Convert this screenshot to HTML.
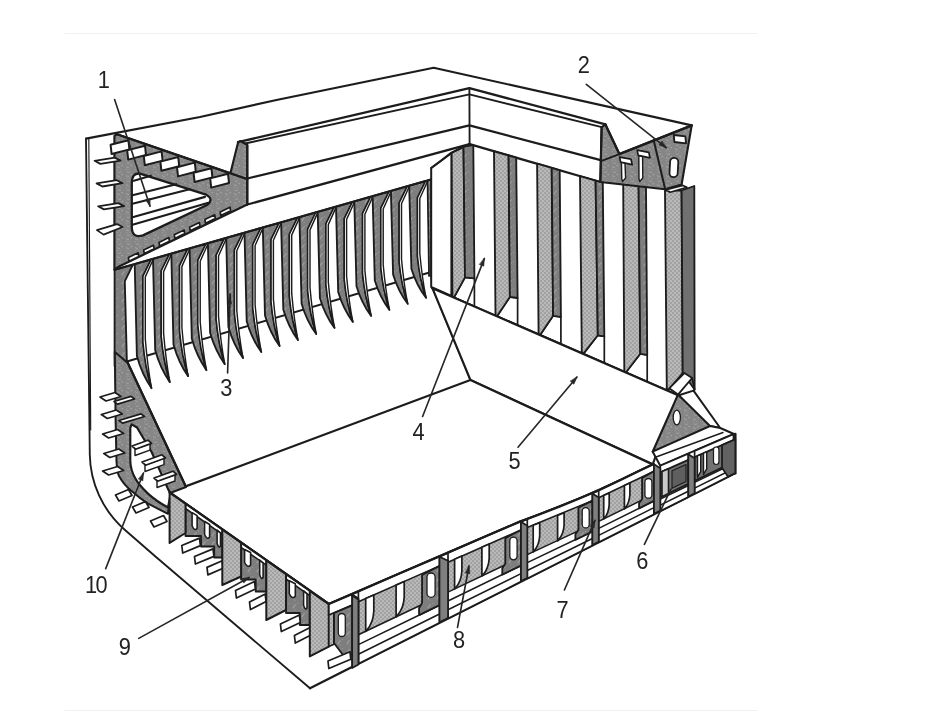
<!DOCTYPE html>
<html lang="en">
<head>
<meta charset="utf-8">
<title>Cargo hold structure</title>
<style>
html,body{margin:0;padding:0;background:#fff;}
body{width:945px;height:714px;overflow:hidden;font-family:"Liberation Sans",sans-serif;}
svg{display:block;}
svg text{font-family:"Liberation Sans",sans-serif;fill:#222;}
</style>
</head>
<body>
<svg width="945" height="714" viewBox="0 0 945 714" stroke-linejoin="round" stroke-linecap="round">
<defs>
<pattern id="lg" width="4" height="4" patternUnits="userSpaceOnUse">
<rect width="4" height="4" fill="#b9b9b9"/>
<circle cx="1" cy="1" r="0.8" fill="#868686"/>
<circle cx="3" cy="3" r="0.8" fill="#868686"/>
</pattern>
<pattern id="mg" width="9" height="9" patternUnits="userSpaceOnUse"><rect width="9" height="9" fill="#868686"/><circle cx="2.9" cy="1.4" r="0.68" fill="#a6a6a6"/><circle cx="0.7" cy="4.8" r="0.58" fill="#a6a6a6"/><circle cx="0.5" cy="4.6" r="0.46" fill="#a6a6a6"/><circle cx="3.9" cy="0.6" r="0.48" fill="#a6a6a6"/><circle cx="3.8" cy="7.4" r="0.49" fill="#a6a6a6"/><circle cx="2.0" cy="5.6" r="0.78" fill="#a6a6a6"/><circle cx="5.2" cy="3.6" r="0.79" fill="#a6a6a6"/><circle cx="0.4" cy="7.7" r="0.55" fill="#a6a6a6"/><circle cx="1.3" cy="1.1" r="0.56" fill="#a6a6a6"/></pattern>
<pattern id="dg" width="9" height="9" patternUnits="userSpaceOnUse"><rect width="9" height="9" fill="#7e7e7e"/><circle cx="7.3" cy="1.6" r="0.65" fill="#9c9c9c"/><circle cx="5.8" cy="3.4" r="0.64" fill="#9c9c9c"/><circle cx="0.6" cy="0.5" r="0.52" fill="#9c9c9c"/><circle cx="6.1" cy="3.8" r="0.56" fill="#9c9c9c"/><circle cx="5.3" cy="4.1" r="0.55" fill="#9c9c9c"/><circle cx="7.1" cy="6.3" r="0.54" fill="#9c9c9c"/><circle cx="5.2" cy="4.7" r="0.76" fill="#9c9c9c"/><circle cx="6.6" cy="2.6" r="0.79" fill="#9c9c9c"/></pattern>
<filter id="soft" x="-2%" y="-2%" width="104%" height="104%"><feGaussianBlur stdDeviation="0.45"/></filter>
</defs>
<rect width="945" height="714" fill="#fff"/>
<g filter="url(#soft)">
<polyline points="65.0,33.5 757.0,33.5" fill="none" stroke="#f0f0f0" stroke-width="1.14" />
<polyline points="65.0,710.5 757.0,710.5" fill="none" stroke="#f0f0f0" stroke-width="1.14" />
<path d="M86,138.6 L89.8,455 C90.3,482 102,510 125,530 L156.3,557.3 L310,688.3" fill="none" stroke="#1b1b1b" stroke-width="1.85" />
<polyline points="88.8,138.1 90.7,430.0" fill="none" stroke="#1b1b1b" stroke-width="1.14" />
<polyline points="86.0,138.6 200.0,117.0 276.5,100.0 433.7,67.8 691.7,125.4" fill="none" stroke="#1b1b1b" stroke-width="2.13" />
<polyline points="238.0,142.2 469.4,88.1 605.4,124.4" fill="none" stroke="#1b1b1b" stroke-width="2.27" />
<polyline points="241.5,144.3 469.4,94.4 602.8,127.4" fill="none" stroke="#1b1b1b" stroke-width="1.99" />
<polyline points="247.3,178.5 469.4,125.4 601.6,160.4" fill="none" stroke="#1b1b1b" stroke-width="2.13" />
<polyline points="247.3,204.5 469.6,144.2 600.3,182.0" fill="none" stroke="#1b1b1b" stroke-width="2.27" />
<polyline points="469.4,88.1 469.6,144.2" fill="none" stroke="#1b1b1b" stroke-width="1.85" />
<polyline points="431.2,272.0 432.4,288.2" fill="none" stroke="#1b1b1b" stroke-width="2.13" />
<polyline points="432.4,288.2 470.4,380.0" fill="none" stroke="#1b1b1b" stroke-width="1.49" />
<polygon points="465.0,277.4 474.4,278.4 474.4,306.5 453.9,297.6" fill="#ffffff" stroke="#1b1b1b" stroke-width="1.70" />
<polygon points="451.4,152.9 463.5,146.5 465.0,277.4 453.9,297.6 452.4,296.9" fill="url(#lg)" stroke="#1b1b1b" stroke-width="1.85" />
<polygon points="463.5,146.5 473.3,145.2 474.4,278.4 465.0,277.4" fill="url(#dg)" stroke="#1b1b1b" stroke-width="1.85" />
<polygon points="509.9,297.0 517.6,298.0 517.6,325.3 497.0,316.3" fill="#ffffff" stroke="#1b1b1b" stroke-width="1.70" />
<polygon points="494.0,151.3 508.6,155.5 509.9,297.0 497.0,316.3 495.5,315.7" fill="url(#lg)" stroke="#1b1b1b" stroke-width="1.85" />
<polygon points="508.6,155.5 516.2,157.7 517.6,298.0 509.9,297.0" fill="url(#dg)" stroke="#1b1b1b" stroke-width="1.85" />
<polygon points="553.1,315.8 560.9,316.8 560.9,344.2 540.1,335.1" fill="#ffffff" stroke="#1b1b1b" stroke-width="1.70" />
<polygon points="537.1,163.7 551.7,167.9 553.1,315.8 540.1,335.1 538.6,334.5" fill="url(#lg)" stroke="#1b1b1b" stroke-width="1.85" />
<polygon points="551.7,167.9 559.7,170.3 560.9,316.8 553.1,315.8" fill="url(#dg)" stroke="#1b1b1b" stroke-width="1.85" />
<polygon points="597.8,335.3 604.3,336.3 604.3,363.1 583.3,353.9" fill="#ffffff" stroke="#1b1b1b" stroke-width="1.70" />
<polygon points="580.0,176.1 595.6,180.6 597.8,335.3 583.3,353.9 581.8,353.3" fill="url(#lg)" stroke="#1b1b1b" stroke-width="1.85" />
<polygon points="595.6,180.6 602.8,182.7 604.3,336.3 597.8,335.3" fill="url(#dg)" stroke="#1b1b1b" stroke-width="1.85" />
<polygon points="640.3,353.8 647.2,354.8 647.2,381.8 625.8,372.5" fill="#ffffff" stroke="#1b1b1b" stroke-width="1.70" />
<polygon points="623.2,183.5 638.6,185.0 640.3,353.8 625.8,372.5 624.3,371.8" fill="url(#lg)" stroke="#1b1b1b" stroke-width="1.85" />
<polygon points="638.6,185.0 646.0,186.0 647.2,354.8 640.3,353.8" fill="url(#dg)" stroke="#1b1b1b" stroke-width="1.85" />
<polygon points="665.0,190.5 681.6,190.5 682.7,373.0 668.8,389.5 666.8,389.3" fill="url(#lg)" stroke="#1b1b1b" stroke-width="1.85" />
<polygon points="681.6,190.5 694.3,186.0 694.6,389.5 682.7,373.0" fill="#707070" stroke="#1b1b1b" stroke-width="1.85" />
<polyline points="432.4,288.2 678.0,395.2" fill="none" stroke="#1b1b1b" stroke-width="2.13" />
<polygon points="601.6,127.4 605.4,124.4 619.4,154.1 691.7,125.4 681.6,184.6 665.0,189.2 600.3,182.0" fill="url(#mg)" stroke="#1b1b1b" stroke-width="2.13" />
<polyline points="605.4,124.4 619.4,154.1 691.7,125.4" fill="none" stroke="#1b1b1b" stroke-width="2.27" />
<polyline points="653.7,140.2 665.0,188.4" fill="none" stroke="#1b1b1b" stroke-width="1.99" />
<polyline points="601.6,127.4 600.3,182.0" fill="none" stroke="#1b1b1b" stroke-width="1.99" />
<polygon points="619.6,157.2 631.0,159.2 632.2,164.6 620.6,162.2" fill="#ffffff" stroke="#1b1b1b" stroke-width="1.70" />
<polygon points="621.4,162.6 625.0,163.4 625.6,178.0 622.6,181.5 621.8,179.0" fill="#ffffff" stroke="#1b1b1b" stroke-width="1.42" />
<polygon points="637.2,150.2 648.8,152.4 650.0,157.8 638.2,155.4" fill="#ffffff" stroke="#1b1b1b" stroke-width="1.70" />
<polygon points="638.8,155.8 642.6,156.6 642.8,178.0 639.8,181.5 639.0,179.0" fill="#ffffff" stroke="#1b1b1b" stroke-width="1.42" />
<polygon points="673.8,135.0 685.4,136.4 686.0,143.4 674.4,142.0" fill="#ffffff" stroke="#1b1b1b" stroke-width="1.85" />
<rect x="669.8" y="157.8" width="8.2" height="19.4" rx="4.1" fill="#fff" stroke="#1b1b1b" stroke-width="1.8" transform="rotate(3 674 167.3)"/>
<polyline points="600.9,161.2 619.4,154.1" fill="none" stroke="#1b1b1b" stroke-width="1.85" />
<polygon points="666.3,189.7 682.9,185.4 686.9,187.3 670.2,192.2" fill="#ffffff" stroke="#1b1b1b" stroke-width="1.70" />
<polyline points="123.5,362.5 431.2,272.0" fill="none" stroke="#1b1b1b" stroke-width="1.85" />
<polygon points="114.6,269.8 132.9,264.6 124.8,281.3 127.0,366.0 114.6,366.0" fill="url(#dg)" stroke="#1b1b1b" stroke-width="1.85" />
<path d="M134.7,264.1 L151.2,259.4 L143.0,276.1 L143.0,342.2 Q145.3,367.8 151.5,388.2 Q141.9,374.3 136.9,356.1 Z" fill="url(#dg)" stroke="#1b1b1b" stroke-width="1.85" />
<path d="M151.2,259.4 L153.5,258.7 L145.3,276.9 L145.3,339.2 Q147.5,365.7 151.5,388.2 Q145.3,367.8 143.0,342.2 L143.0,276.1 Z" fill="#ffffff" stroke="#1b1b1b" stroke-width="1.42" />
<path d="M153.0,258.8 L169.5,254.1 L161.3,270.8 L161.3,336.4 Q163.6,361.9 169.8,382.1 Q160.2,368.3 155.2,350.3 Z" fill="url(#dg)" stroke="#1b1b1b" stroke-width="1.85" />
<path d="M169.5,254.1 L171.8,253.4 L163.6,271.6 L163.6,333.4 Q165.8,359.8 169.8,382.1 Q163.6,361.9 161.3,336.4 L161.3,270.8 Z" fill="#ffffff" stroke="#1b1b1b" stroke-width="1.42" />
<path d="M171.3,253.6 L187.8,248.9 L179.6,265.6 L179.6,330.7 Q181.9,356.1 188.1,376.1 Q178.5,362.4 173.5,344.4 Z" fill="url(#dg)" stroke="#1b1b1b" stroke-width="1.85" />
<path d="M187.8,248.9 L190.1,248.2 L181.9,266.4 L181.9,327.7 Q184.1,353.9 188.1,376.1 Q181.9,356.1 179.6,330.7 L179.6,265.6 Z" fill="#ffffff" stroke="#1b1b1b" stroke-width="1.42" />
<path d="M189.6,248.4 L206.1,243.7 L197.9,260.4 L197.9,325.0 Q200.2,350.2 206.4,370.1 Q196.8,356.5 191.8,338.6 Z" fill="url(#dg)" stroke="#1b1b1b" stroke-width="1.85" />
<path d="M206.1,243.7 L208.4,243.0 L200.2,261.2 L200.2,322.0 Q202.4,348.1 206.4,370.1 Q200.2,350.2 197.9,325.0 L197.9,260.4 Z" fill="#ffffff" stroke="#1b1b1b" stroke-width="1.42" />
<path d="M207.9,243.2 L224.4,238.5 L216.2,255.2 L216.2,319.3 Q218.5,344.3 224.7,364.1 Q215.1,350.5 210.1,332.8 Z" fill="url(#dg)" stroke="#1b1b1b" stroke-width="1.85" />
<path d="M224.4,238.5 L226.7,237.8 L218.5,256.0 L218.5,316.3 Q220.7,342.2 224.7,364.1 Q218.5,344.3 216.2,319.3 L216.2,255.2 Z" fill="#ffffff" stroke="#1b1b1b" stroke-width="1.42" />
<path d="M226.2,237.9 L242.7,233.2 L234.5,249.9 L234.5,313.5 Q236.8,338.4 243.0,358.0 Q233.4,344.6 228.4,327.0 Z" fill="url(#dg)" stroke="#1b1b1b" stroke-width="1.85" />
<path d="M242.7,233.2 L245.0,232.5 L236.8,250.7 L236.8,310.5 Q239.0,336.3 243.0,358.0 Q236.8,338.4 234.5,313.5 L234.5,249.9 Z" fill="#ffffff" stroke="#1b1b1b" stroke-width="1.42" />
<path d="M244.5,232.7 L261.0,228.0 L252.8,244.7 L252.8,307.8 Q255.1,332.5 261.3,352.0 Q251.7,338.7 246.7,321.2 Z" fill="url(#dg)" stroke="#1b1b1b" stroke-width="1.85" />
<path d="M261.0,228.0 L263.3,227.3 L255.1,245.5 L255.1,304.8 Q257.3,330.4 261.3,352.0 Q255.1,332.5 252.8,307.8 L252.8,244.7 Z" fill="#ffffff" stroke="#1b1b1b" stroke-width="1.42" />
<path d="M262.8,227.5 L279.3,222.8 L271.1,239.5 L271.1,302.1 Q273.4,326.6 279.6,346.0 Q270.0,332.7 265.0,315.4 Z" fill="url(#dg)" stroke="#1b1b1b" stroke-width="1.85" />
<path d="M279.3,222.8 L281.6,222.1 L273.4,240.3 L273.4,299.1 Q275.6,324.6 279.6,346.0 Q273.4,326.6 271.1,302.1 L271.1,239.5 Z" fill="#ffffff" stroke="#1b1b1b" stroke-width="1.42" />
<path d="M281.1,222.3 L297.6,217.6 L289.4,234.3 L289.4,296.4 Q291.7,320.7 297.9,340.0 Q288.3,326.8 283.3,309.5 Z" fill="url(#dg)" stroke="#1b1b1b" stroke-width="1.85" />
<path d="M297.6,217.6 L299.9,216.9 L291.7,235.1 L291.7,293.4 Q293.9,318.7 297.9,340.0 Q291.7,320.7 289.4,296.4 L289.4,234.3 Z" fill="#ffffff" stroke="#1b1b1b" stroke-width="1.42" />
<path d="M299.4,217.1 L315.9,212.3 L307.7,229.1 L307.7,290.6 Q310.0,314.8 316.2,334.0 Q306.6,320.9 301.6,303.7 Z" fill="url(#dg)" stroke="#1b1b1b" stroke-width="1.85" />
<path d="M315.9,212.3 L318.2,211.6 L310.0,229.9 L310.0,287.6 Q312.2,312.8 316.2,334.0 Q310.0,314.8 307.7,290.6 L307.7,229.1 Z" fill="#ffffff" stroke="#1b1b1b" stroke-width="1.42" />
<path d="M317.7,211.8 L334.2,207.1 L326.0,223.8 L326.0,284.9 Q328.3,308.9 334.5,327.9 Q324.9,314.9 319.9,297.9 Z" fill="url(#dg)" stroke="#1b1b1b" stroke-width="1.85" />
<path d="M334.2,207.1 L336.5,206.4 L328.3,224.6 L328.3,281.9 Q330.5,306.9 334.5,327.9 Q328.3,308.9 326.0,284.9 L326.0,223.8 Z" fill="#ffffff" stroke="#1b1b1b" stroke-width="1.42" />
<path d="M336.0,206.6 L352.5,201.9 L344.3,218.6 L344.3,279.2 Q346.6,303.0 352.8,321.9 Q343.2,309.0 338.2,292.1 Z" fill="url(#dg)" stroke="#1b1b1b" stroke-width="1.85" />
<path d="M352.5,201.9 L354.8,201.2 L346.6,219.4 L346.6,276.2 Q348.8,301.0 352.8,321.9 Q346.6,303.0 344.3,279.2 L344.3,218.6 Z" fill="#ffffff" stroke="#1b1b1b" stroke-width="1.42" />
<path d="M354.3,201.4 L370.8,196.7 L362.6,213.4 L362.6,273.4 Q364.9,297.1 371.1,315.9 Q361.5,303.1 356.5,286.3 Z" fill="url(#dg)" stroke="#1b1b1b" stroke-width="1.85" />
<path d="M370.8,196.7 L373.1,196.0 L364.9,214.2 L364.9,270.4 Q367.1,295.2 371.1,315.9 Q364.9,297.1 362.6,273.4 L362.6,213.4 Z" fill="#ffffff" stroke="#1b1b1b" stroke-width="1.42" />
<path d="M372.6,196.2 L389.1,191.5 L380.9,208.2 L380.9,267.7 Q383.2,291.2 389.4,309.9 Q379.8,297.1 374.8,280.5 Z" fill="url(#dg)" stroke="#1b1b1b" stroke-width="1.85" />
<path d="M389.1,191.5 L391.4,190.8 L383.2,209.0 L383.2,264.7 Q385.4,289.3 389.4,309.9 Q383.2,291.2 380.9,267.7 L380.9,208.2 Z" fill="#ffffff" stroke="#1b1b1b" stroke-width="1.42" />
<path d="M390.9,190.9 L407.4,186.2 L399.2,202.9 L399.2,262.0 Q401.5,285.4 407.7,303.8 Q398.1,291.2 393.1,274.6 Z" fill="url(#dg)" stroke="#1b1b1b" stroke-width="1.85" />
<path d="M407.4,186.2 L409.7,185.5 L401.5,203.7 L401.5,259.0 Q403.7,283.4 407.7,303.8 Q401.5,285.4 399.2,262.0 L399.2,202.9 Z" fill="#ffffff" stroke="#1b1b1b" stroke-width="1.42" />
<path d="M409.2,185.7 L425.7,181.0 L417.5,197.7 L417.5,256.3 Q419.8,279.5 426.0,297.8 Q416.4,285.3 411.4,268.8 Z" fill="url(#dg)" stroke="#1b1b1b" stroke-width="1.85" />
<path d="M425.7,181.0 L428.0,180.3 L419.8,198.5 L419.8,253.3 Q422.0,277.5 426.0,297.8 Q419.8,279.5 417.5,256.3 L417.5,197.7 Z" fill="#ffffff" stroke="#1b1b1b" stroke-width="1.42" />
<polygon points="427.5,180.5 431.2,179.4 431.2,275.5 429.0,276.0" fill="url(#dg)" stroke="#1b1b1b" stroke-width="1.70" />
<polygon points="431.2,287.0 431.2,168.0 440.0,161.5 451.4,152.9 451.4,296.0" fill="#ffffff" stroke="#1b1b1b" stroke-width="1.99" />
<polyline points="431.2,168.0 440.0,161.5 451.4,152.9 469.6,144.2" fill="none" stroke="#1b1b1b" stroke-width="1.99" />
<polyline points="114.6,269.8 431.0,179.5" fill="none" stroke="#1b1b1b" stroke-width="2.13" />
<polygon points="114.4,136.0 117.0,134.2 230.4,173.2 238.0,142.7 240.5,141.0 247.3,145.0 247.3,204.5 118.0,267.0 114.4,269.8" fill="url(#mg)" stroke="#1b1b1b" stroke-width="2.13" />
<polyline points="117.0,134.2 247.3,179.1" fill="none" stroke="#1b1b1b" stroke-width="2.27" />
<polyline points="247.3,145.0 247.3,204.5" fill="none" stroke="#1b1b1b" stroke-width="1.99" />
<polygon points="110.6,144.8 128.4,140.2 129.4,149.4 111.6,154.0" fill="#ffffff" stroke="#1b1b1b" stroke-width="1.99" />
<polygon points="127.2,150.4 145.0,145.8 146.0,155.0 128.2,159.6" fill="#ffffff" stroke="#1b1b1b" stroke-width="1.99" />
<polygon points="143.8,156.0 161.6,151.4 162.6,160.6 144.8,165.2" fill="#ffffff" stroke="#1b1b1b" stroke-width="1.99" />
<polygon points="160.4,161.6 178.2,157.0 179.2,166.2 161.4,170.8" fill="#ffffff" stroke="#1b1b1b" stroke-width="1.99" />
<polygon points="177.0,167.2 194.8,162.6 195.8,171.8 178.0,176.4" fill="#ffffff" stroke="#1b1b1b" stroke-width="1.99" />
<polygon points="193.6,172.8 211.4,168.2 212.4,177.4 194.6,182.0" fill="#ffffff" stroke="#1b1b1b" stroke-width="1.99" />
<polygon points="210.2,178.4 228.0,173.8 229.0,183.0 211.2,187.6" fill="#ffffff" stroke="#1b1b1b" stroke-width="1.99" />
<path d="M131.8,183 Q131.8,172.5 140,173.6 L206,194.6 Q214.5,199.6 207,205 L143,235.4 Q131.8,238.5 131.8,227 Z" fill="#ffffff" stroke="#1b1b1b" stroke-width="2.27" />
<polyline points="133.9,180.8 150.8,175.7" fill="none" stroke="#1b1b1b" stroke-width="2.13" />
<polyline points="132.5,195.2 176.2,184.2" fill="none" stroke="#1b1b1b" stroke-width="2.13" />
<polyline points="132.5,203.7 189.7,189.3" fill="none" stroke="#1b1b1b" stroke-width="2.13" />
<polyline points="132.5,217.2 205.0,196.9" fill="none" stroke="#1b1b1b" stroke-width="2.13" />
<polyline points="132.5,224.8 208.4,202.8" fill="none" stroke="#1b1b1b" stroke-width="2.13" />
<polygon points="128.4,257.6 138.2,252.8 138.8,256.4 129.0,261.2" fill="#ffffff" stroke="#1b1b1b" stroke-width="1.70" />
<polygon points="143.7,250.0 153.5,245.2 154.1,248.8 144.3,253.6" fill="#ffffff" stroke="#1b1b1b" stroke-width="1.70" />
<polygon points="159.0,242.4 168.8,237.6 169.4,241.2 159.6,246.0" fill="#ffffff" stroke="#1b1b1b" stroke-width="1.70" />
<polygon points="174.3,234.8 184.1,230.0 184.7,233.6 174.9,238.4" fill="#ffffff" stroke="#1b1b1b" stroke-width="1.70" />
<polygon points="189.6,227.2 199.4,222.4 200.0,226.0 190.2,230.8" fill="#ffffff" stroke="#1b1b1b" stroke-width="1.70" />
<polygon points="204.9,219.6 214.7,214.8 215.3,218.4 205.5,223.2" fill="#ffffff" stroke="#1b1b1b" stroke-width="1.70" />
<polygon points="220.2,212.0 230.0,207.2 230.6,210.8 220.8,215.6" fill="#ffffff" stroke="#1b1b1b" stroke-width="1.70" />
<polygon points="94.6,160.8 114.8,157.6 120.6,160.6 100.4,163.9" fill="#ffffff" stroke="#1b1b1b" stroke-width="1.85" />
<polygon points="96.6,183.4 116.8,180.2 122.6,183.2 102.4,186.5" fill="#ffffff" stroke="#1b1b1b" stroke-width="1.85" />
<polygon points="98.1,206.3 118.3,203.1 124.1,206.1 103.9,209.4" fill="#ffffff" stroke="#1b1b1b" stroke-width="1.85" />
<polygon points="96.9,230.1 117.0,224.1 122.6,227.0 103.6,234.6" fill="#ffffff" stroke="#1b1b1b" stroke-width="1.70" />
<polygon points="432.4,288.2 678.0,395.2 652.7,464.4 470.4,380.0" fill="#ffffff" stroke="#1b1b1b" stroke-width="2.13" />
<polygon points="169.6,492.4 470.4,380.0 652.7,464.4 640.0,470.6 620.0,480.3 600.0,489.6 580.0,498.3 560.0,506.5 540.0,514.2 520.0,521.6 328.8,604.0" fill="#ffffff" stroke="#1b1b1b" stroke-width="2.27" />
<polygon points="678.0,394.6 713.6,426.3 652.7,451.7" fill="url(#mg)" stroke="#1b1b1b" stroke-width="2.13" />
<ellipse cx="676.8" cy="417.5" rx="3.6" ry="7.4" fill="#fff" stroke="#1b1b1b" stroke-width="1.3"/>
<polygon points="678.8,395.2 693.5,390.6 720.2,428.0 710.0,426.0" fill="#ffffff" stroke="#1b1b1b" stroke-width="1.99" />
<polygon points="669.2,388.3 684.4,373.0 692.1,378.0 678.0,394.6" fill="#ffffff" stroke="#1b1b1b" stroke-width="1.85" />
<polyline points="692.1,378.0 694.6,389.5 693.5,390.6" fill="none" stroke="#1b1b1b" stroke-width="1.85" />
<polygon points="652.7,451.7 710.0,426.0 720.2,428.0 734.0,434.0 726.0,437.2 660.3,465.7" fill="#ffffff" stroke="#1b1b1b" stroke-width="1.99" />
<polyline points="656.0,457.0 723.0,432.5" fill="none" stroke="#1b1b1b" stroke-width="1.42" />
<polyline points="310.0,688.3 735.0,473.3" fill="none" stroke="#1b1b1b" stroke-width="2.27" />
<polygon points="358.4,591.2 439.5,556.3 439.5,622.8 358.4,663.8" fill="#ffffff" stroke="#1b1b1b" stroke-width="1.70" />
<polygon points="358.4,601.8 439.5,565.9 439.5,596.2 358.4,634.8" fill="url(#lg)" stroke="#1b1b1b" stroke-width="1.56" />
<polyline points="358.4,644.6 439.5,605.2" fill="none" stroke="#1b1b1b" stroke-width="1.56" />
<polyline points="358.4,654.2 439.5,614.0" fill="none" stroke="#1b1b1b" stroke-width="1.56" />
<path d="M365.7,598.5 L373.8,595.0 L373.8,611.2 Q373.3,622.6 366.7,630.3 L365.7,631.3 Z" fill="#ffffff" stroke="#1b1b1b" stroke-width="1.70" />
<path d="M396.1,585.1 L404.2,581.5 L404.2,597.2 Q403.7,608.3 397.1,615.8 L396.1,616.8 Z" fill="#ffffff" stroke="#1b1b1b" stroke-width="1.70" />
<polygon points="422.1,575.0 439.5,565.9 439.5,605.2 419.1,615.1 419.1,608.0 422.1,603.1" fill="url(#dg)" stroke="#1b1b1b" stroke-width="1.85" />
<rect x="427.0" y="573.0" width="8.1" height="24.3" rx="4.1" fill="#fff" stroke="#1b1b1b" stroke-width="1.3"/>
<polygon points="448.0,552.6 521.0,521.2 521.0,581.6 448.0,618.5" fill="#ffffff" stroke="#1b1b1b" stroke-width="1.70" />
<polygon points="448.0,562.2 521.0,530.0 521.0,557.4 448.0,592.1" fill="url(#lg)" stroke="#1b1b1b" stroke-width="1.56" />
<polyline points="448.0,601.0 521.0,565.6" fill="none" stroke="#1b1b1b" stroke-width="1.56" />
<polyline points="448.0,609.8 521.0,573.6" fill="none" stroke="#1b1b1b" stroke-width="1.56" />
<path d="M454.6,559.3 L461.9,556.0 L461.9,570.8 Q461.4,581.1 455.6,588.0 L454.6,589.0 Z" fill="#ffffff" stroke="#1b1b1b" stroke-width="1.70" />
<path d="M481.9,547.2 L489.2,544.0 L489.2,558.2 Q488.7,568.2 482.9,575.0 L481.9,576.0 Z" fill="#ffffff" stroke="#1b1b1b" stroke-width="1.70" />
<polygon points="505.3,538.1 521.0,530.0 521.0,565.6 502.3,574.6 502.3,568.2 505.3,563.6" fill="url(#dg)" stroke="#1b1b1b" stroke-width="1.85" />
<rect x="509.8" y="537.2" width="7.3" height="22.6" rx="3.7" fill="#fff" stroke="#1b1b1b" stroke-width="1.3"/>
<polygon points="527.3,518.9 592.4,493.0 592.4,545.4 527.3,578.4" fill="#ffffff" stroke="#1b1b1b" stroke-width="1.70" />
<polygon points="527.3,527.5 592.4,500.6 592.4,524.4 527.3,554.6" fill="url(#lg)" stroke="#1b1b1b" stroke-width="1.56" />
<polyline points="527.3,562.6 592.4,531.5" fill="none" stroke="#1b1b1b" stroke-width="1.56" />
<polyline points="527.3,570.5 592.4,538.5" fill="none" stroke="#1b1b1b" stroke-width="1.56" />
<path d="M533.2,525.2 L539.7,522.7 L539.7,535.8 Q539.2,545.0 534.2,550.9 L533.2,551.9 Z" fill="#ffffff" stroke="#1b1b1b" stroke-width="1.70" />
<path d="M557.6,515.5 L564.1,512.8 L564.1,525.3 Q563.6,534.0 558.6,539.8 L557.6,540.8 Z" fill="#ffffff" stroke="#1b1b1b" stroke-width="1.70" />
<polygon points="578.4,507.8 592.4,500.6 592.4,531.5 575.4,539.8 575.4,534.1 578.4,530.0" fill="url(#dg)" stroke="#1b1b1b" stroke-width="1.85" />
<rect x="582.2" y="507.7" width="7.0" height="20.2" rx="3.5" fill="#fff" stroke="#1b1b1b" stroke-width="1.3"/>
<polygon points="598.7,490.2 654.0,463.8 654.0,514.3 598.7,542.3" fill="#ffffff" stroke="#1b1b1b" stroke-width="1.70" />
<polygon points="598.7,497.7 654.0,471.2 654.0,494.1 598.7,521.4" fill="url(#lg)" stroke="#1b1b1b" stroke-width="1.56" />
<polyline points="598.7,528.4 654.0,500.9" fill="none" stroke="#1b1b1b" stroke-width="1.56" />
<polyline points="598.7,535.4 654.0,507.6" fill="none" stroke="#1b1b1b" stroke-width="1.56" />
<path d="M603.7,495.4 L609.2,492.9 L609.2,504.6 Q608.7,512.8 604.7,518.0 L603.7,519.0 Z" fill="#ffffff" stroke="#1b1b1b" stroke-width="1.70" />
<path d="M624.4,485.6 L629.9,482.9 L629.9,494.5 Q629.4,502.6 625.4,507.8 L624.4,508.8 Z" fill="#ffffff" stroke="#1b1b1b" stroke-width="1.70" />
<polygon points="642.1,478.0 654.0,471.2 654.0,500.9 639.1,508.4 639.1,503.0 642.1,499.0" fill="url(#dg)" stroke="#1b1b1b" stroke-width="1.85" />
<rect x="644.9" y="478.5" width="7.0" height="19.7" rx="3.5" fill="#fff" stroke="#1b1b1b" stroke-width="1.3"/>
<polygon points="660.3,465.7 688.3,453.7 688.3,496.9 660.3,511.1" fill="#ffffff" stroke="#1b1b1b" stroke-width="1.70" />
<polygon points="660.3,472.3 688.3,459.9 688.3,483.9 660.3,497.5" fill="#737373" stroke="#1b1b1b" stroke-width="1.85" />
<polyline points="660.3,499.1 688.3,485.5" fill="none" stroke="#1b1b1b" stroke-width="1.56" />
<polyline points="660.3,505.1 688.3,491.2" fill="none" stroke="#1b1b1b" stroke-width="1.56" />
<polygon points="694.6,450.9 733.5,434.2 733.5,474.1 694.6,493.7" fill="#ffffff" stroke="#1b1b1b" stroke-width="1.70" />
<polygon points="694.6,457.2 733.5,440.0 733.5,462.1 694.6,480.9" fill="#737373" stroke="#1b1b1b" stroke-width="1.85" />
<polyline points="694.6,482.4 733.5,463.5" fill="none" stroke="#1b1b1b" stroke-width="1.56" />
<polyline points="694.6,488.1 733.5,468.8" fill="none" stroke="#1b1b1b" stroke-width="1.56" />
<polygon points="352.2,594.4 358.4,598.4 358.4,663.3 352.2,666.5" fill="#7f7f7f" stroke="#1b1b1b" stroke-width="1.70" />
<polygon points="439.5,556.8 448.0,560.8 448.0,618.0 439.5,622.3" fill="#7f7f7f" stroke="#1b1b1b" stroke-width="1.70" />
<polygon points="521.0,521.7 527.3,525.7 527.3,577.9 521.0,581.1" fill="#7f7f7f" stroke="#1b1b1b" stroke-width="1.70" />
<polygon points="592.4,493.5 598.7,497.5 598.7,541.8 592.4,544.9" fill="#7f7f7f" stroke="#1b1b1b" stroke-width="1.70" />
<polygon points="654.0,464.3 660.3,468.3 660.3,510.6 654.0,513.8" fill="#7f7f7f" stroke="#1b1b1b" stroke-width="1.70" />
<polygon points="688.3,454.2 694.6,458.2 694.6,493.2 688.3,496.4" fill="#7f7f7f" stroke="#1b1b1b" stroke-width="1.70" />
<polyline points="735.3,434.0 735.3,473.3" fill="none" stroke="#1b1b1b" stroke-width="2.56" />
<polygon points="662.0,471.5 668.5,468.7 668.5,493.5 662.0,496.7" fill="#c9c9c9" stroke="#1b1b1b" stroke-width="1.56" />
<polygon points="672.0,470.7 686.0,464.4 686.0,481.6 672.0,488.3" fill="#5e5e5e" stroke="#1b1b1b" stroke-width="1.14" />
<polygon points="697.5,455.9 700.7,454.5 700.7,471.6 697.5,477.4" fill="#ffffff" stroke="#1b1b1b" stroke-width="1.42" />
<polygon points="703.5,453.2 706.7,451.8 706.7,468.8 703.5,474.5" fill="#ffffff" stroke="#1b1b1b" stroke-width="1.42" />
<rect x="713.5" y="447" width="5.4" height="17.5" rx="2.7" fill="#fff" stroke="#1b1b1b" stroke-width="1.2"/>
<polygon points="722.0,445.1 735.3,439.2 735.3,473.1 728.0,476.8 722.0,467.7" fill="#626262" stroke="#1b1b1b" stroke-width="1.70" />
<path d="M114.8,352 L115.6,420 L116.5,461 Q117,472 119,476 Q124,485 131.6,491 Q140,498.5 148,503.7 L168,513.8 L170,493 L186,487 L127.8,363 Z" fill="url(#mg)" stroke="#1b1b1b" stroke-width="1.99" />
<polyline points="127.8,363.0 185.8,486.5" fill="none" stroke="#1b1b1b" stroke-width="2.27" />
<path d="M131.6,424.3 L137,427.5 L151.6,452 L168.3,489.6 L170.7,493.6 L168,507.5 Q156,501 148,493.6 Q138,484 135.4,478.5 Q130.5,470 130.3,461 L130.3,428 Z" fill="#ffffff" stroke="#1b1b1b" stroke-width="2.13" />
<polygon points="114.0,401.5 131.0,396.4 134.5,399.0 117.5,404.1" fill="#ffffff" stroke="#1b1b1b" stroke-width="1.70" />
<polygon points="119.0,420.5 141.0,413.9 144.5,416.5 122.5,423.1" fill="#ffffff" stroke="#1b1b1b" stroke-width="1.70" />
<polygon points="135.0,449.0 150.0,443.6 150.0,450.1 135.0,455.5" fill="#ffffff" stroke="#1b1b1b" stroke-width="1.42" />
<polygon points="132.0,446.0 148.0,440.2 151.5,443.4 135.5,449.2" fill="#ffffff" stroke="#1b1b1b" stroke-width="1.70" />
<polygon points="145.0,465.0 164.0,458.2 164.0,464.7 145.0,471.5" fill="#ffffff" stroke="#1b1b1b" stroke-width="1.42" />
<polygon points="142.0,462.0 162.0,454.8 165.5,458.0 145.5,465.2" fill="#ffffff" stroke="#1b1b1b" stroke-width="1.70" />
<polygon points="157.0,481.0 175.0,474.5 175.0,481.0 157.0,487.5" fill="#ffffff" stroke="#1b1b1b" stroke-width="1.42" />
<polygon points="154.0,478.0 173.0,471.2 176.5,474.4 157.5,481.2" fill="#ffffff" stroke="#1b1b1b" stroke-width="1.70" />
<polygon points="100.0,397.0 115.0,392.5 121.0,396.5 106.0,401.0" fill="#ffffff" stroke="#1b1b1b" stroke-width="1.70" />
<polygon points="101.3,414.5 116.3,410.0 122.3,414.0 107.3,418.5" fill="#ffffff" stroke="#1b1b1b" stroke-width="1.70" />
<polygon points="102.6,434.0 117.6,429.5 123.6,433.5 108.6,438.0" fill="#ffffff" stroke="#1b1b1b" stroke-width="1.70" />
<polygon points="103.8,453.5 118.8,449.0 124.8,453.0 109.8,457.5" fill="#ffffff" stroke="#1b1b1b" stroke-width="1.70" />
<polygon points="102.6,471.0 117.6,466.5 123.6,470.5 108.6,475.0" fill="#ffffff" stroke="#1b1b1b" stroke-width="1.70" />
<polygon points="115.5,495.0 128.5,489.5 132.0,495.5 119.0,501.0" fill="#ffffff" stroke="#1b1b1b" stroke-width="1.70" />
<polygon points="132.5,507.0 145.5,501.5 149.0,507.5 136.0,513.0" fill="#ffffff" stroke="#1b1b1b" stroke-width="1.70" />
<polygon points="150.5,521.0 163.5,515.5 167.0,521.5 154.0,527.0" fill="#ffffff" stroke="#1b1b1b" stroke-width="1.70" />
<polygon points="185.5,503.5 222.3,529.3 222.3,557.5 214.2,557.5 214.2,546.5 201.0,546.5 201.0,536.0 185.5,536.0" fill="url(#dg)" stroke="#1b1b1b" stroke-width="1.85" />
<polygon points="185.5,503.5 222.3,529.3 222.3,534.3 185.5,508.5" fill="#ffffff" stroke="#1b1b1b" stroke-width="1.56" />
<path d="M192.1,512.7 L192.1,525.7 Q194.6,531.7 197.1,528.2 L197.1,515.7 Z" fill="#ffffff" stroke="#1b1b1b" stroke-width="1.56" />
<path d="M204.6,521.5 L204.6,534.5 Q207.1,540.5 209.6,537.0 L209.6,524.5 Z" fill="#ffffff" stroke="#1b1b1b" stroke-width="1.56" />
<path d="M217.1,530.2 L217.1,543.2 Q218.8,549.2 220.5,545.7 L220.5,533.2 Z" fill="#ffffff" stroke="#1b1b1b" stroke-width="1.56" />
<polygon points="181.8,545.5 199.5,538.1 200.4,545.6 182.7,553.0" fill="#ffffff" stroke="#1b1b1b" stroke-width="1.70" />
<polygon points="194.5,556.5 213.0,548.9 213.9,556.4 195.4,564.0" fill="#ffffff" stroke="#1b1b1b" stroke-width="1.70" />
<polygon points="207.0,567.4 222.2,560.7 223.1,568.2 207.9,574.9" fill="#ffffff" stroke="#1b1b1b" stroke-width="1.70" />
<polygon points="241.1,542.5 266.3,560.2 266.3,591.5 255.7,591.5 255.7,579.5 241.1,579.5" fill="url(#dg)" stroke="#1b1b1b" stroke-width="1.85" />
<polygon points="241.1,542.5 266.3,560.2 266.3,565.2 241.1,547.5" fill="#ffffff" stroke="#1b1b1b" stroke-width="1.56" />
<path d="M244.6,549.5 L244.6,562.5 Q247.6,568.5 250.6,565.0 L250.6,552.5 Z" fill="#ffffff" stroke="#1b1b1b" stroke-width="1.56" />
<path d="M259.7,560.1 L259.7,574.6 Q261.4,580.6 263.1,577.1 L263.1,563.1 Z" fill="#ffffff" stroke="#1b1b1b" stroke-width="1.56" />
<polygon points="235.5,590.5 254.5,581.6 255.4,589.1 236.4,598.0" fill="#ffffff" stroke="#1b1b1b" stroke-width="1.70" />
<polygon points="249.5,602.0 265.2,594.1 266.1,601.6 250.4,609.5" fill="#ffffff" stroke="#1b1b1b" stroke-width="1.70" />
<polygon points="286.0,574.0 309.8,590.7 309.8,625.0 299.8,625.0 299.8,613.0 286.0,613.0" fill="url(#dg)" stroke="#1b1b1b" stroke-width="1.85" />
<polygon points="286.0,574.0 309.8,590.7 309.8,595.7 286.0,579.0" fill="#ffffff" stroke="#1b1b1b" stroke-width="1.56" />
<path d="M289.3,580.8 L289.3,593.8 Q292.3,599.8 295.3,596.3 L295.3,583.8 Z" fill="#ffffff" stroke="#1b1b1b" stroke-width="1.56" />
<path d="M303.6,590.8 L303.6,605.3 Q305.3,611.3 307.0,607.8 L307.0,593.8 Z" fill="#ffffff" stroke="#1b1b1b" stroke-width="1.56" />
<polygon points="280.4,624.0 299.4,615.1 300.3,622.6 281.3,631.5" fill="#ffffff" stroke="#1b1b1b" stroke-width="1.70" />
<polygon points="294.4,635.5 310.1,627.6 311.0,635.1 295.3,643.0" fill="#ffffff" stroke="#1b1b1b" stroke-width="1.70" />
<polygon points="169.6,492.4 185.5,503.5 185.5,533.0 169.6,542.9" fill="url(#lg)" stroke="#1b1b1b" stroke-width="1.99" />
<polygon points="222.3,529.3 241.1,542.5 241.1,576.5 222.3,585.0" fill="url(#lg)" stroke="#1b1b1b" stroke-width="1.99" />
<polygon points="266.3,560.2 286.0,574.0 286.0,610.0 266.3,620.0" fill="url(#lg)" stroke="#1b1b1b" stroke-width="1.99" />
<polygon points="309.8,590.7 328.8,604.0 328.8,646.6 309.8,656.4" fill="url(#lg)" stroke="#1b1b1b" stroke-width="1.99" />
<polygon points="328.8,604.0 334.0,612.5 334.0,644.2 328.8,646.6" fill="url(#lg)" stroke="#1b1b1b" stroke-width="1.70" />
<polygon points="328.8,604.0 352.2,594.0 352.2,605.0 328.8,615.0" fill="#ffffff" stroke="#1b1b1b" stroke-width="1.85" />
<polygon points="334.0,613.0 352.2,605.4 352.2,660.0 343.0,655.0 334.0,643.0" fill="url(#dg)" stroke="#1b1b1b" stroke-width="1.85" />
<rect x="338.3" y="613.5" width="7" height="23" rx="3.5" fill="#fff" stroke="#1b1b1b" stroke-width="1.3"/>
<polygon points="328.0,661.0 350.0,651.8 350.8,659.3 328.8,668.5" fill="#ffffff" stroke="#1b1b1b" stroke-width="1.70" />
<polygon points="352.2,595.5 358.4,599.5 358.4,664.5 352.2,668.0" fill="#7f7f7f" stroke="#1b1b1b" stroke-width="1.70" />
<polyline points="169.6,492.4 328.8,604.0 360.0,590.6 400.0,573.3 440.0,556.1 480.0,538.8 520.0,521.6 540.0,514.2 560.0,506.5 580.0,498.3 600.0,489.6 620.0,480.3 640.0,470.6 652.7,464.4" fill="none" stroke="#1b1b1b" stroke-width="2.27" />
<polyline points="114.6,99.5 150.0,206.2" fill="none" stroke="#262626" stroke-width="1.63" />
<polygon points="150.0,206.2 145.5,199.8 149.8,198.4" fill="#262626" stroke="#262626" stroke-width="0.57" />
<polyline points="586.3,84.3 666.3,147.8" fill="none" stroke="#262626" stroke-width="1.63" />
<polygon points="666.3,147.8 659.0,144.9 661.9,141.3" fill="#262626" stroke="#262626" stroke-width="0.57" />
<polyline points="227.6,373.0 230.2,294.0" fill="none" stroke="#262626" stroke-width="1.63" />
<polygon points="230.2,294.0 231.5,304.0 228.3,303.9" fill="#262626" stroke="#262626" stroke-width="0.57" />
<polyline points="422.6,416.5 484.4,258.4" fill="none" stroke="#262626" stroke-width="1.63" />
<polygon points="484.4,258.4 483.8,266.2 479.5,264.5" fill="#262626" stroke="#262626" stroke-width="0.57" />
<polyline points="518.0,447.2 577.0,377.0" fill="none" stroke="#262626" stroke-width="1.63" />
<polygon points="577.0,377.0 573.9,384.2 570.4,381.3" fill="#262626" stroke="#262626" stroke-width="0.57" />
<polyline points="644.4,544.4 671.0,489.0" fill="none" stroke="#262626" stroke-width="1.63" />
<polyline points="564.4,590.0 595.0,520.3" fill="none" stroke="#262626" stroke-width="1.63" />
<polygon points="595.0,520.3 594.1,528.1 589.9,526.2" fill="#262626" stroke="#262626" stroke-width="0.57" />
<polyline points="457.5,627.4 469.0,566.0" fill="none" stroke="#262626" stroke-width="1.63" />
<polygon points="469.0,566.0 469.9,573.8 465.4,572.9" fill="#262626" stroke="#262626" stroke-width="0.57" />
<polyline points="138.7,638.4 249.2,577.5" fill="none" stroke="#262626" stroke-width="1.63" />
<polygon points="249.2,577.5 243.7,583.1 241.5,579.1" fill="#262626" stroke="#262626" stroke-width="0.57" />
<polyline points="105.7,568.6 143.5,473.0" fill="none" stroke="#262626" stroke-width="1.63" />
<polygon points="143.5,473.0 142.9,480.8 138.6,479.1" fill="#262626" stroke="#262626" stroke-width="0.57" />
<text transform="translate(103.7,88) scale(0.9,1)" font-size="24.2" text-anchor="middle" stroke="none" letter-spacing="0">1</text>
<text transform="translate(583.8,73) scale(0.9,1)" font-size="24.2" text-anchor="middle" stroke="none" letter-spacing="0">2</text>
<text transform="translate(226.3,395.7) scale(0.9,1)" font-size="24.2" text-anchor="middle" stroke="none" letter-spacing="0">3</text>
<text transform="translate(418.5,439.6) scale(0.9,1)" font-size="24.2" text-anchor="middle" stroke="none" letter-spacing="0">4</text>
<text transform="translate(514.5,469) scale(0.9,1)" font-size="24.2" text-anchor="middle" stroke="none" letter-spacing="0">5</text>
<text transform="translate(642.3,569.3) scale(0.9,1)" font-size="24.2" text-anchor="middle" stroke="none" letter-spacing="0">6</text>
<text transform="translate(562.6,618.4) scale(0.9,1)" font-size="24.2" text-anchor="middle" stroke="none" letter-spacing="0">7</text>
<text transform="translate(459,647.5) scale(0.9,1)" font-size="24.2" text-anchor="middle" stroke="none" letter-spacing="0">8</text>
<text transform="translate(124.8,655) scale(0.9,1)" font-size="24.2" text-anchor="middle" stroke="none" letter-spacing="0">9</text>
<text transform="translate(95.6,593) scale(0.9,1)" font-size="24.2" text-anchor="middle" stroke="none" letter-spacing="-1.6">10</text>
</g>
</svg>
</body>
</html>
